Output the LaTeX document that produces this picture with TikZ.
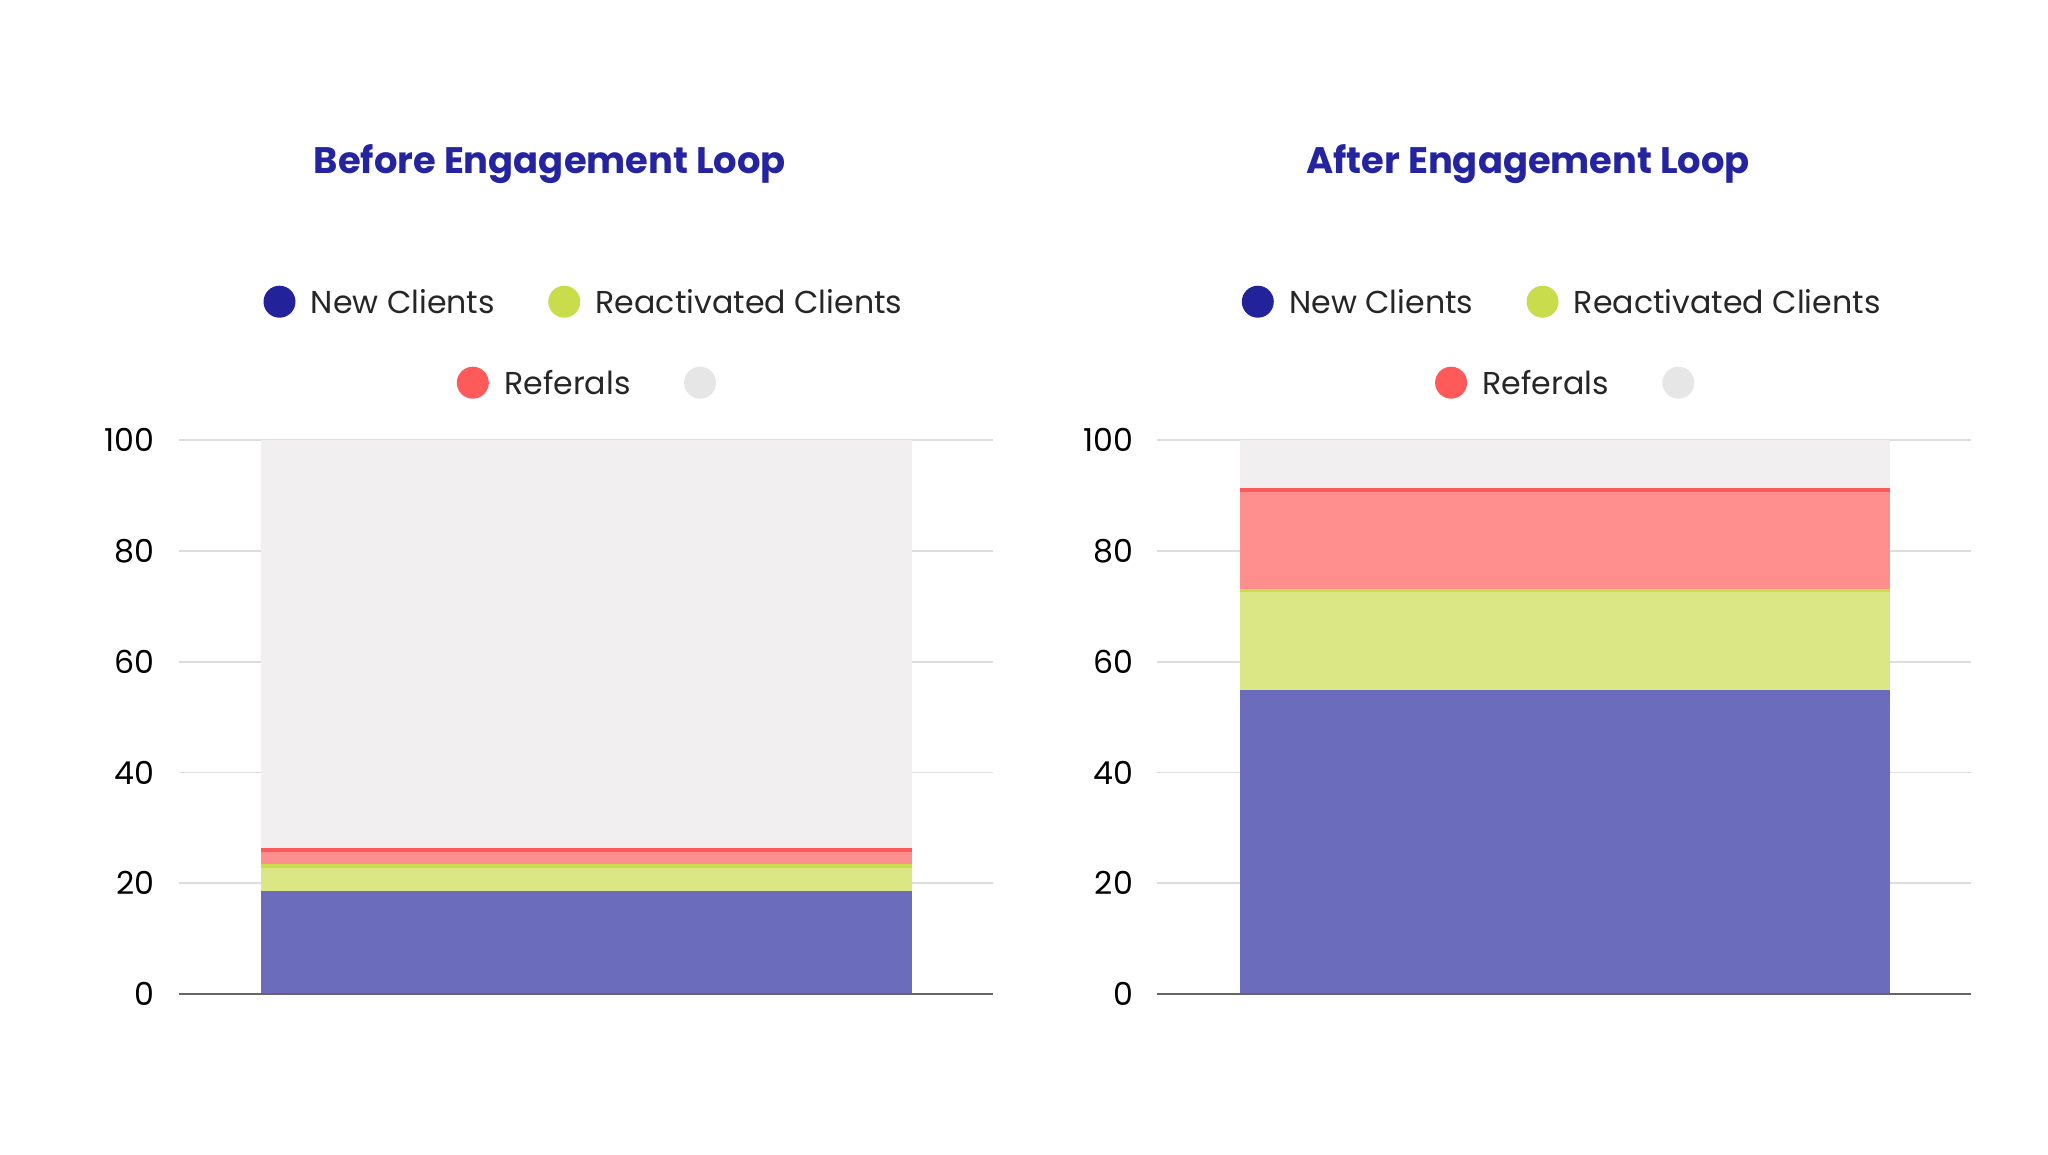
\documentclass[tikz,border=0pt]{standalone}
\usepackage{fontspec}
\setmainfont{Poppins}
\usetikzlibrary{positioning}
\definecolor{titleblue}{HTML}{2424A0}
\definecolor{newdot}{HTML}{22229A}
\definecolor{newbar}{HTML}{6C6CBD}
\definecolor{reacdot}{HTML}{C8DC4C}
\definecolor{reacbar}{HTML}{DBE685}
\definecolor{refdot}{HTML}{FF5A5A}
\definecolor{refbar}{HTML}{FF8F8F}
\definecolor{restbar}{HTML}{F1EFF0}
\definecolor{restdot}{HTML}{E6E6E6}
\definecolor{gridgray}{HTML}{DDDDDD}

\begin{document}
\begin{tikzpicture}[
    x=0.01306cm, y=-0.01306cm,
    title/.style={font=\fontsize{10.5pt}{12pt}\selectfont\bfseries, text=titleblue},
    legend/.style={font=\fontsize{9pt}{11pt}\selectfont, text=black!85, anchor=west, inner sep=0pt},
    dot/.style={circle, minimum size=0.32cm, inner sep=0pt},
    tick/.style={font=\fontsize{9pt}{11pt}\selectfont, anchor=east, inner sep=0pt},
    grid/.style={draw=gridgray, line width=0.5pt},
    base/.style={draw=black!60, line width=0.6pt}
]
\useasboundingbox (0,0) rectangle (1568,884);

% Titles
\node[title] (title_before) at (421,126) {Before Engagement Loop};
\node[title] (title_after) at (1170,126) {After Engagement Loop};

% Axes, grid and ticks
\foreach \ox/\nm in {0/before, 749/after} {
  \foreach \v in {20,40,60,80,100}
    \draw[grid] (137+\ox,761-4.24*\v) -- (760+\ox,761-4.24*\v);
  \foreach \v in {0,20,40,60,80,100}
    \node[tick] (tick_\nm_\v) at (119+\ox,761-4.24*\v) {\v};
}

% Before bars
\fill[restbar] (200,337) rectangle (698,761);
\fill[refbar] (200,651) rectangle (698,663);
\fill[reacbar] (200,663) rectangle (698,682);
\fill[newbar] (200,682) rectangle (698,761);
\draw[refdot, line width=1.2pt] (200,651) -- (698,651);
\draw[reacdot, line width=1pt] (200,663) -- (698,663);

% After bars
\fill[restbar] (949,337) rectangle (1447,761);
\fill[refbar] (949,375) rectangle (1447,452);
\fill[reacbar] (949,452) rectangle (1447,528);
\fill[newbar] (949,528) rectangle (1447,761);
\draw[refdot, line width=1.2pt] (949,375) -- (1447,375);
\draw[reacdot, line width=1pt] (949,452) -- (1447,452);
\draw[base] (137,761) -- (760,761);
\draw[base] (886,761) -- (1509,761);

% Legends
\foreach \ox/\nm in {0/before, 749/after} {
  \node[dot, fill=newdot] (new_\nm) at (214+\ox,231) {};
  \node[legend, right=0.14cm of new_\nm] {New Clients};
  \node[dot, fill=reacdot] (reac_\nm) at (432+\ox,231) {};
  \node[legend, right=0.14cm of reac_\nm] {Reactivated Clients};
  \node[dot, fill=refdot] (ref_\nm) at (362+\ox,293) {};
  \node[legend, right=0.14cm of ref_\nm] {Referals};
  \node[dot, fill=restdot] (rest_\nm) at (536+\ox,293) {};
}
\end{tikzpicture}
\end{document}
